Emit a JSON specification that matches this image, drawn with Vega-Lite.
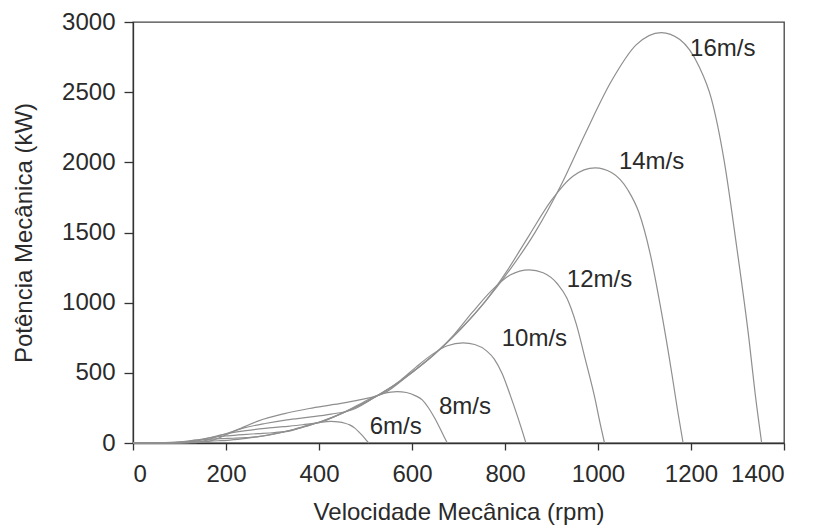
{
  "$schema": "https://vega.github.io/schema/vega-lite/v6.json",
  "width": 651,
  "height": 421,
  "autosize": "none",
  "padding": {"left": 133, "top": 22, "right": 32, "bottom": 87},
  "background": "white",
  "config": {
    "font": "Liberation Sans",
    "view": {"stroke": "#444", "strokeWidth": 1.3},
    "axis": {
      "grid": false,
      "domainColor": "#333",
      "domainWidth": 1.3,
      "tickColor": "#333",
      "tickWidth": 1.3,
      "labelFont": "Liberation Sans",
      "labelFontSize": 24,
      "labelColor": "#2a2a2a",
      "titleFont": "Liberation Sans",
      "titleFontSize": 24,
      "titleFontWeight": "normal",
      "titleColor": "#2a2a2a"
    }
  },
  "datasets": {
    "curves": [
      {"v": 16, "rpm": 0, "p": 0}, {"v": 16, "rpm": 108, "p": 0}, {"v": 16, "rpm": 162, "p": 12}, {"v": 16, "rpm": 216, "p": 82}, {"v": 16, "rpm": 270, "p": 158}, {"v": 16, "rpm": 324, "p": 208}, {"v": 16, "rpm": 379, "p": 246}, {"v": 16, "rpm": 433, "p": 275}, {"v": 16, "rpm": 487, "p": 307}, {"v": 16, "rpm": 541, "p": 357}, {"v": 16, "rpm": 595, "p": 491}, {"v": 16, "rpm": 649, "p": 635}, {"v": 16, "rpm": 703, "p": 807}, {"v": 16, "rpm": 757, "p": 1006}, {"v": 16, "rpm": 811, "p": 1237}, {"v": 16, "rpm": 865, "p": 1503}, {"v": 16, "rpm": 919, "p": 1828}, {"v": 16, "rpm": 973, "p": 2208}, {"v": 16, "rpm": 1028, "p": 2574}, {"v": 16, "rpm": 1082, "p": 2837}, {"v": 16, "rpm": 1136, "p": 2925}, {"v": 16, "rpm": 1176, "p": 2875}, {"v": 16, "rpm": 1217, "p": 2685}, {"v": 16, "rpm": 1244, "p": 2451}, {"v": 16, "rpm": 1271, "p": 2018}, {"v": 16, "rpm": 1298, "p": 1404}, {"v": 16, "rpm": 1325, "p": 731}, {"v": 16, "rpm": 1338, "p": 351}, {"v": 16, "rpm": 1352, "p": 0},
      {"v": 14, "rpm": 0, "p": 0}, {"v": 14, "rpm": 95, "p": 0}, {"v": 14, "rpm": 142, "p": 8}, {"v": 14, "rpm": 189, "p": 55}, {"v": 14, "rpm": 237, "p": 106}, {"v": 14, "rpm": 284, "p": 139}, {"v": 14, "rpm": 331, "p": 165}, {"v": 14, "rpm": 379, "p": 184}, {"v": 14, "rpm": 426, "p": 206}, {"v": 14, "rpm": 473, "p": 239}, {"v": 14, "rpm": 521, "p": 329}, {"v": 14, "rpm": 568, "p": 425}, {"v": 14, "rpm": 615, "p": 541}, {"v": 14, "rpm": 662, "p": 674}, {"v": 14, "rpm": 710, "p": 829}, {"v": 14, "rpm": 757, "p": 1007}, {"v": 14, "rpm": 804, "p": 1225}, {"v": 14, "rpm": 852, "p": 1480}, {"v": 14, "rpm": 899, "p": 1725}, {"v": 14, "rpm": 946, "p": 1901}, {"v": 14, "rpm": 994, "p": 1960}, {"v": 14, "rpm": 1029, "p": 1927}, {"v": 14, "rpm": 1065, "p": 1799}, {"v": 14, "rpm": 1088, "p": 1642}, {"v": 14, "rpm": 1112, "p": 1352}, {"v": 14, "rpm": 1136, "p": 941}, {"v": 14, "rpm": 1159, "p": 490}, {"v": 14, "rpm": 1171, "p": 235}, {"v": 14, "rpm": 1183, "p": 0},
      {"v": 12, "rpm": 0, "p": 0}, {"v": 12, "rpm": 81, "p": 0}, {"v": 12, "rpm": 122, "p": 5}, {"v": 12, "rpm": 162, "p": 35}, {"v": 12, "rpm": 203, "p": 67}, {"v": 12, "rpm": 243, "p": 88}, {"v": 12, "rpm": 284, "p": 104}, {"v": 12, "rpm": 324, "p": 116}, {"v": 12, "rpm": 365, "p": 130}, {"v": 12, "rpm": 406, "p": 151}, {"v": 12, "rpm": 446, "p": 207}, {"v": 12, "rpm": 487, "p": 268}, {"v": 12, "rpm": 527, "p": 341}, {"v": 12, "rpm": 568, "p": 424}, {"v": 12, "rpm": 608, "p": 522}, {"v": 12, "rpm": 649, "p": 634}, {"v": 12, "rpm": 690, "p": 771}, {"v": 12, "rpm": 730, "p": 932}, {"v": 12, "rpm": 771, "p": 1086}, {"v": 12, "rpm": 811, "p": 1197}, {"v": 12, "rpm": 852, "p": 1234}, {"v": 12, "rpm": 882, "p": 1213}, {"v": 12, "rpm": 913, "p": 1133}, {"v": 12, "rpm": 933, "p": 1034}, {"v": 12, "rpm": 953, "p": 851}, {"v": 12, "rpm": 973, "p": 592}, {"v": 12, "rpm": 994, "p": 309}, {"v": 12, "rpm": 1004, "p": 148}, {"v": 12, "rpm": 1014, "p": 0},
      {"v": 10, "rpm": 0, "p": 0}, {"v": 10, "rpm": 68, "p": 0}, {"v": 10, "rpm": 101, "p": 3}, {"v": 10, "rpm": 135, "p": 20}, {"v": 10, "rpm": 169, "p": 39}, {"v": 10, "rpm": 203, "p": 51}, {"v": 10, "rpm": 237, "p": 60}, {"v": 10, "rpm": 270, "p": 67}, {"v": 10, "rpm": 304, "p": 75}, {"v": 10, "rpm": 338, "p": 87}, {"v": 10, "rpm": 372, "p": 120}, {"v": 10, "rpm": 406, "p": 155}, {"v": 10, "rpm": 439, "p": 197}, {"v": 10, "rpm": 473, "p": 246}, {"v": 10, "rpm": 507, "p": 302}, {"v": 10, "rpm": 541, "p": 367}, {"v": 10, "rpm": 575, "p": 446}, {"v": 10, "rpm": 608, "p": 539}, {"v": 10, "rpm": 642, "p": 628}, {"v": 10, "rpm": 676, "p": 693}, {"v": 10, "rpm": 710, "p": 714}, {"v": 10, "rpm": 735, "p": 702}, {"v": 10, "rpm": 761, "p": 655}, {"v": 10, "rpm": 777, "p": 598}, {"v": 10, "rpm": 794, "p": 493}, {"v": 10, "rpm": 811, "p": 343}, {"v": 10, "rpm": 828, "p": 179}, {"v": 10, "rpm": 837, "p": 86}, {"v": 10, "rpm": 845, "p": 0},
      {"v": 8, "rpm": 0, "p": 0}, {"v": 8, "rpm": 54, "p": 0}, {"v": 8, "rpm": 81, "p": 1}, {"v": 8, "rpm": 108, "p": 10}, {"v": 8, "rpm": 135, "p": 20}, {"v": 8, "rpm": 162, "p": 26}, {"v": 8, "rpm": 189, "p": 31}, {"v": 8, "rpm": 216, "p": 34}, {"v": 8, "rpm": 243, "p": 38}, {"v": 8, "rpm": 270, "p": 45}, {"v": 8, "rpm": 297, "p": 61}, {"v": 8, "rpm": 324, "p": 79}, {"v": 8, "rpm": 352, "p": 101}, {"v": 8, "rpm": 379, "p": 126}, {"v": 8, "rpm": 406, "p": 155}, {"v": 8, "rpm": 433, "p": 188}, {"v": 8, "rpm": 460, "p": 229}, {"v": 8, "rpm": 487, "p": 276}, {"v": 8, "rpm": 514, "p": 322}, {"v": 8, "rpm": 541, "p": 355}, {"v": 8, "rpm": 568, "p": 366}, {"v": 8, "rpm": 588, "p": 360}, {"v": 8, "rpm": 608, "p": 336}, {"v": 8, "rpm": 622, "p": 307}, {"v": 8, "rpm": 635, "p": 253}, {"v": 8, "rpm": 649, "p": 176}, {"v": 8, "rpm": 662, "p": 92}, {"v": 8, "rpm": 669, "p": 44}, {"v": 8, "rpm": 676, "p": 0},
      {"v": 6, "rpm": 0, "p": 0}, {"v": 6, "rpm": 41, "p": 0}, {"v": 6, "rpm": 61, "p": 1}, {"v": 6, "rpm": 81, "p": 4}, {"v": 6, "rpm": 101, "p": 8}, {"v": 6, "rpm": 122, "p": 11}, {"v": 6, "rpm": 142, "p": 13}, {"v": 6, "rpm": 162, "p": 14}, {"v": 6, "rpm": 183, "p": 16}, {"v": 6, "rpm": 203, "p": 19}, {"v": 6, "rpm": 223, "p": 26}, {"v": 6, "rpm": 243, "p": 33}, {"v": 6, "rpm": 264, "p": 43}, {"v": 6, "rpm": 284, "p": 53}, {"v": 6, "rpm": 304, "p": 65}, {"v": 6, "rpm": 324, "p": 79}, {"v": 6, "rpm": 345, "p": 96}, {"v": 6, "rpm": 365, "p": 116}, {"v": 6, "rpm": 385, "p": 136}, {"v": 6, "rpm": 406, "p": 149}, {"v": 6, "rpm": 426, "p": 154}, {"v": 6, "rpm": 441, "p": 151}, {"v": 6, "rpm": 456, "p": 141}, {"v": 6, "rpm": 466, "p": 129}, {"v": 6, "rpm": 477, "p": 106}, {"v": 6, "rpm": 487, "p": 74}, {"v": 6, "rpm": 497, "p": 39}, {"v": 6, "rpm": 502, "p": 18}, {"v": 6, "rpm": 507, "p": 0}
    ],
    "labels": [
      {"label": "16m/s", "rpm": 1198, "p": 2806},
      {"label": "14m/s", "rpm": 1045, "p": 2002},
      {"label": "12m/s", "rpm": 933, "p": 1162},
      {"label": "10m/s", "rpm": 793, "p": 742},
      {"label": "8m/s", "rpm": 658, "p": 258},
      {"label": "6m/s", "rpm": 509, "p": 117}
    ]
  },
  "layer": [
    {
      "data": {"name": "curves"},
      "mark": {"type": "line", "interpolate": "monotone", "color": "#8f8f8f", "strokeWidth": 1.2},
      "encoding": {
        "x": {
          "field": "rpm", "type": "quantitative",
          "scale": {"domain": [0, 1400], "nice": false},
          "axis": {"values": [0, 200, 400, 600, 800, 1000, 1200, 1400], "format": "d", "tickSize": 7, "labelPadding": 12, "title": "Velocidade Mecânica (rpm)", "titlePadding": 14}
        },
        "y": {
          "field": "p", "type": "quantitative",
          "scale": {"domain": [0, 3000], "nice": false},
          "axis": {"values": [0, 500, 1000, 1500, 2000, 2500, 3000], "format": "d", "tickSize": 9, "labelPadding": 9, "title": "Potência Mecânica (kW)", "titlePadding": 25}
        },
        "detail": {"field": "v", "type": "nominal"}
      }
    },
    {
      "data": {"name": "labels"},
      "mark": {"type": "text", "align": "left", "baseline": "middle", "fontSize": 24, "color": "#2a2a2a", "font": "Liberation Sans"},
      "encoding": {
        "x": {"field": "rpm", "type": "quantitative"},
        "y": {"field": "p", "type": "quantitative"},
        "text": {"field": "label", "type": "nominal"}
      }
    }
  ]
}
